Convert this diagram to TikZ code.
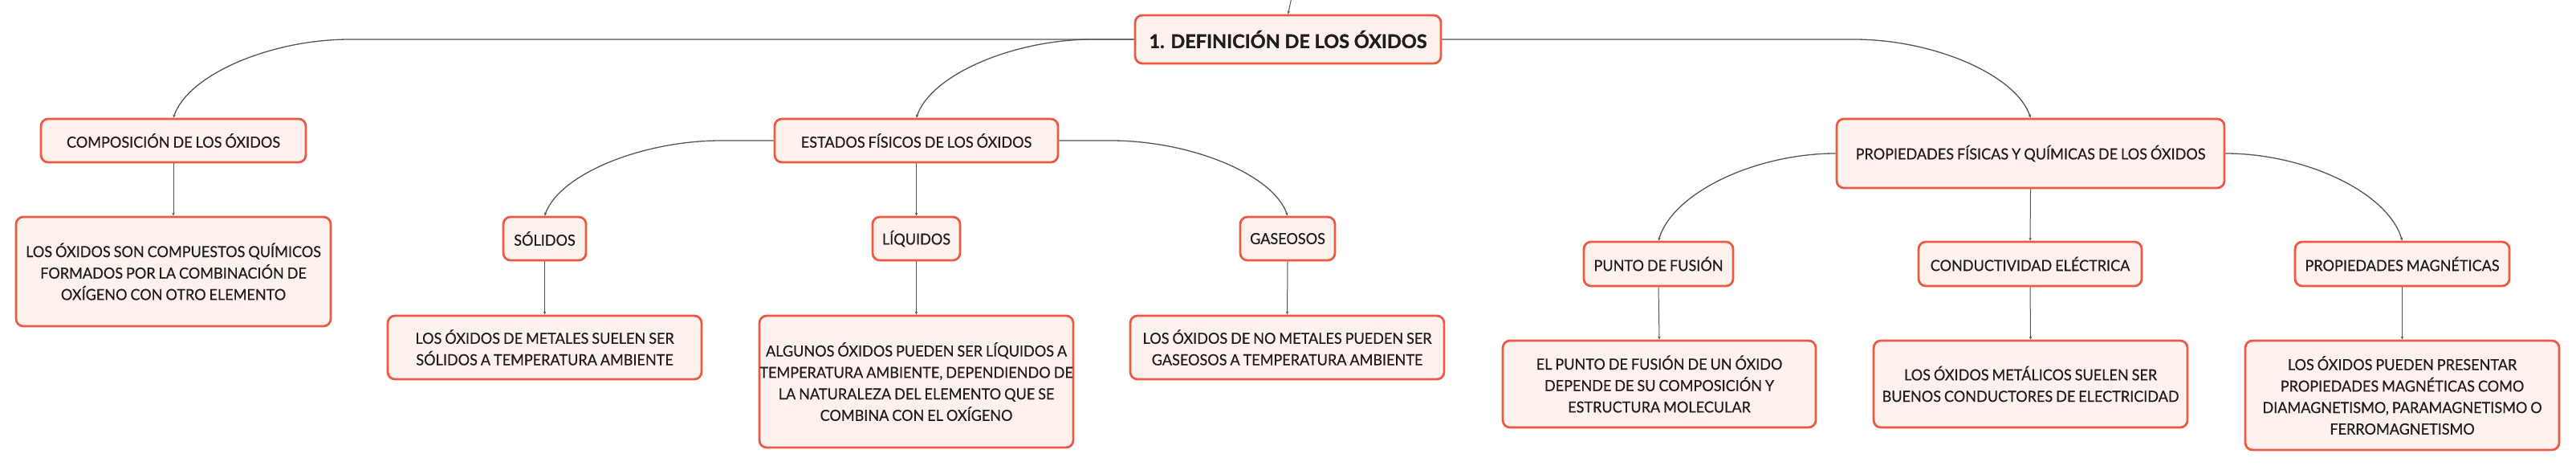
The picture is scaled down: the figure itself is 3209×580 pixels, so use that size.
\documentclass[tikz,border=0pt]{standalone}
\usepackage{fontspec}
\usetikzlibrary{arrows.meta}
\newfontfamily\boxfont{Lato}[UprightFont=*-Regular,UprightFeatures={FakeBold=0.5},FakeStretch=0.95,WordSpace=0.85]
\newfontfamily\titlefont{Lato}[UprightFont=*-Bold,UprightFeatures={FakeBold=1.3}]
\definecolor{boxred}{HTML}{EA5A44}
\definecolor{boxfill}{HTML}{FDF1EE}
\definecolor{linegray}{HTML}{555555}
\definecolor{txt}{HTML}{1E1E1E}
\tikzset{
  box/.style={draw=boxred, line width=2.8pt, fill=boxfill, rounded corners=9pt,
    inner sep=0pt, align=center, text=txt,
    font=\boxfont\fontsize{19}{26.7}\selectfont},
  titlebox/.style={box, font=\titlefont\fontsize{23.5}{28}\selectfont},
  conn/.style={draw=linegray, line width=1.3pt, -{Stealth[length=4pt,width=3.5pt]}},
  vconn/.style={draw=linegray, line width=1pt, -{Stealth[length=4pt,width=3.5pt]}}
}
\begin{document}
\begin{tikzpicture}[x=1pt,y=-1pt]
\useasboundingbox (0,0) rectangle (3209,580);
\clip (0,0) rectangle (3209,580);
% level 0
\node[titlebox, minimum width=381pt, minimum height=60pt] (def) at (1604.5,49) {1. DEFINICIÓN DE LOS ÓXIDOS};
% level 1
\node[box, minimum width=330pt, minimum height=54pt] (comp) at (216,175) {COMPOSICIÓN DE LOS ÓXIDOS};
\node[box, minimum width=353pt, minimum height=54pt] (est) at (1141.5,175) {ESTADOS FÍSICOS DE LOS ÓXIDOS};
\node[box, minimum width=483pt, minimum height=86pt] (prop) at (2529.5,191) {PROPIEDADES FÍSICAS Y QUÍMICAS DE LOS ÓXIDOS};
% level 2
\node[box, minimum width=392pt, minimum height=136pt] (compc) at (216,338) {LOS ÓXIDOS SON COMPUESTOS QUÍMICOS\\FORMADOS POR LA COMBINACIÓN DE\\OXÍGENO CON OTRO ELEMENTO};
\node[box, minimum width=103pt, minimum height=54pt] (sol) at (678.5,297) {SÓLIDOS};
\node[box, minimum width=109pt, minimum height=54pt] (liq) at (1141.5,297) {LÍQUIDOS};
\node[box, minimum width=118pt, minimum height=54pt] (gas) at (1604,297) {GASEOSOS};
\node[box, minimum width=186pt, minimum height=55pt] (punto) at (2066,328.5) {PUNTO DE FUSIÓN};
\node[box, minimum width=278pt, minimum height=55pt] (cond) at (2529,328.5) {CONDUCTIVIDAD ELÉCTRICA};
\node[box, minimum width=267pt, minimum height=55pt] (mag) at (2992.5,328.5) {PROPIEDADES MAGNÉTICAS};
% level 3
\node[box, minimum width=391pt, minimum height=79pt] (solc) at (678.5,432.5) {LOS ÓXIDOS DE METALES SUELEN SER\\SÓLIDOS A TEMPERATURA AMBIENTE};
\node[box, minimum width=391pt, minimum height=164pt] (liqc) at (1141.5,475) {ALGUNOS ÓXIDOS PUEDEN SER LÍQUIDOS A\\TEMPERATURA AMBIENTE, DEPENDIENDO DE\\LA NATURALEZA DEL ELEMENTO QUE SE\\COMBINA CON EL OXÍGENO};
\node[box, minimum width=391pt, minimum height=79pt] (gasc) at (1603.5,432.5) {LOS ÓXIDOS DE NO METALES PUEDEN SER\\GASEOSOS A TEMPERATURA AMBIENTE};
\node[box, minimum width=390pt, minimum height=108pt] (puntoc) at (2067,478) {EL PUNTO DE FUSIÓN DE UN ÓXIDO\\DEPENDE DE SU COMPOSICIÓN Y\\ESTRUCTURA MOLECULAR};
\node[box, minimum width=391pt, minimum height=108pt] (condc) at (2529.5,478) {LOS ÓXIDOS METÁLICOS SUELEN SER\\BUENOS CONDUCTORES DE ELECTRICIDAD};
\node[box, minimum width=391pt, minimum height=136pt] (magc) at (2992.5,492) {LOS ÓXIDOS PUEDEN PRESENTAR\\PROPIEDADES MAGNÉTICAS COMO\\DIAMAGNETISMO, PARAMAGNETISMO O\\FERROMAGNETISMO};
% connectors
\coordinate (up) at (1610,-8);
\draw[vconn] (up) -- (def.north);
\draw[conn] (def.west) -- (436,49) .. controls (337,49) and (234,93) .. (comp.north);
\draw[conn] (def.west) -- (1361.5,49) .. controls (1262.5,49) and (1159.5,93) .. (est.north);
\draw[conn] (def.east) -- (2309.5,49) .. controls (2408.5,49) and (2511.5,93) .. (prop.north);
\draw[vconn] (comp.south) -- (compc.north);
\draw[conn] (est.west) -- (898.5,175) .. controls (799.5,175) and (696.5,217) .. (sol.north);
\draw[conn] (est.east) -- (1384,175) .. controls (1483,175) and (1586,217) .. (gas.north);
\draw[vconn] (est.south) -- (liq.north);
\draw[vconn] (sol.south) -- (solc.north);
\draw[vconn] (liq.south) -- (liqc.north);
\draw[vconn] (gas.south) -- (gasc.north);
\draw[conn] (prop.west) .. controls (2188,191) and (2084,239) .. (punto.north);
\draw[conn] (prop.east) .. controls (2871,191) and (2974.5,239) .. (mag.north);
\draw[vconn] (prop.south) -- (cond.north);
\draw[vconn] (punto.south) -- (puntoc.north);
\draw[vconn] (cond.south) -- (condc.north);
\draw[vconn] (mag.south) -- (magc.north);
\end{tikzpicture}
\end{document}
